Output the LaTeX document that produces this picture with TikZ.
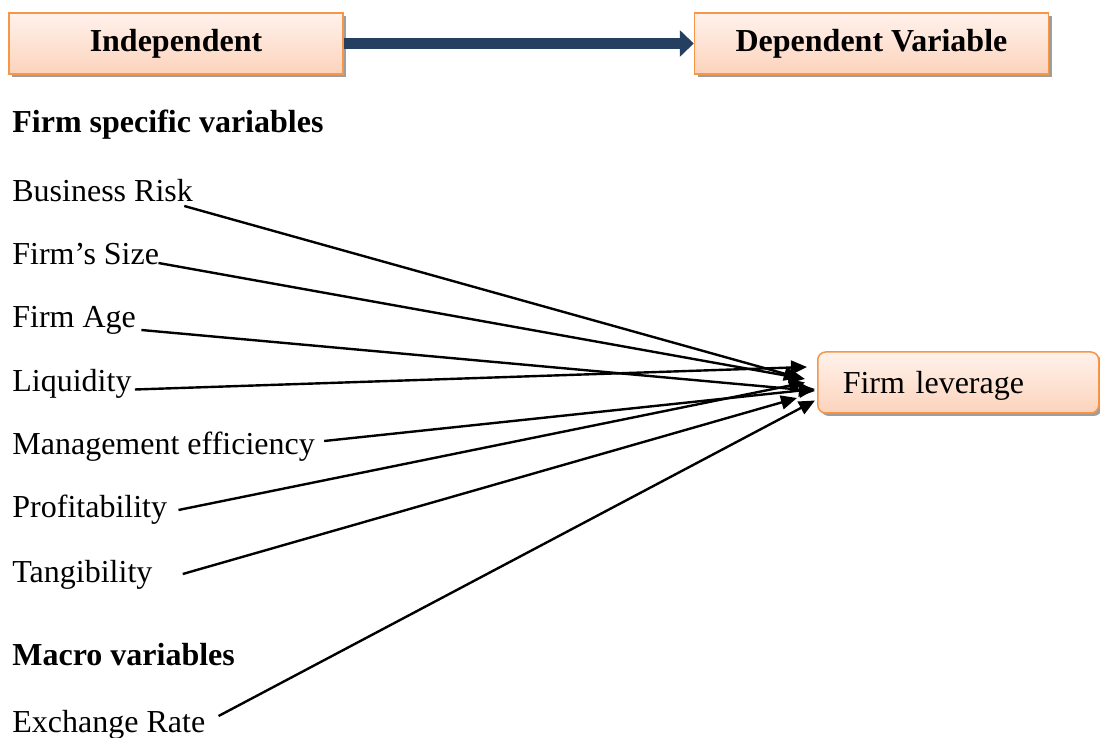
\documentclass[tikz,border=0pt]{standalone}
\usepackage{fontspec}
\setmainfont{Liberation Serif}
\usetikzlibrary{arrows.meta, positioning, shadows, calc}
\definecolor{peach}{HTML}{FCD3BC}
\definecolor{peachlight}{HTML}{FFF2EC}
\definecolor{accentorange}{HTML}{F79646}
\definecolor{navy}{HTML}{243F60}

\begin{document}
\begin{tikzpicture}[
        x=0.5pt, y=-0.5pt,
        every node/.style={font=\fontsize{16}{19}\selectfont},
        headbox/.style={draw=accentorange, line width=0.75pt, top color=peachlight, bottom color=peach, minimum height=30.5pt, font=\fontsize{16}{19}\selectfont\bfseries, drop shadow={shadow xshift=1.5pt, shadow yshift=-1.5pt, fill=black!38, opacity=1}},
        levbox/.style={headbox, rounded corners=4pt, font=\fontsize{16}{19}\selectfont, text width=115.5pt, text depth=0pt, inner xsep=12.5pt, align=left, anchor=west},
        item/.style={inner sep=0pt, anchor=base west},
        heading/.style={item, font=\fontsize{16}{19}\selectfont\bfseries},
        flow/.style={-{Triangle[length=7pt, width=13pt]}, line width=5.5pt, navy},
        link/.style={-{Triangle[length=8pt, width=7pt]}, line width=1.2pt, black}
    ]
        \useasboundingbox (0,0) rectangle (1100,738);

        % top row
        \node[headbox, minimum width=167pt] (indep) at (176,43.5) {Independent};
        \node[headbox, minimum width=177pt, right=175pt of indep] (dep) {Dependent Variable};
        \draw[flow] (indep) -- (dep);

        % variables
        \node[heading] (firmvars) at (12,133) {Firm specific variables};
        \node[item] (risk) at (12,202) {Business Risk};
        \node[item] (size) at (12,265) {Firm’s Size};
        \node[item] (age) at (12,328) {Firm Age};
        \node[item] (liq) at (12,392) {Liquidity};
        \node[item] (mgmt) at (12,455) {Management efficiency};
        \node[item] (profit) at (12,517) {Profitability};
        \node[item] (tang) at (12,582) {Tangibility};
        \node[heading] (macrovars) at (12,665) {Macro variables};
        \node[item] (exch) at (12,732) {Exchange Rate};

        \node[levbox] (lev) at (817,382.5) {Firm leverage};

        % links into firm leverage
        \draw[link] ($(risk.base east)+(-9,4)$) -- ($(lev.west)+(-17,-4.5)$);
        \draw[link] ($(size.base east)+(-1,-2)$) -- ($(lev.west)+(-12,-3.5)$);
        \draw[link] ($(age.base east)+(5,2)$) -- ($(lev.west)+(-2,8.5)$);
        \draw[link] ($(liq.base east)+(3,-2.5)$) -- ($(lev.west)+(-10,-15.5)$);
        \draw[link] ($(mgmt.base east)+(9,-14)$) -- ($(lev.west)+(-2,6.5)$);
        \draw[link] ($(profit.base east)+(11,-7)$) -- ($(lev.west)+(-12,0)$);
        \draw[link] ($(tang.base east)+(30,-8)$) -- ($(lev.west)+(-20,15.5)$);
        \draw[link] ($(exch.base east)+(13,-16)$) -- ($(lev.west)+(-2,18)$);
    \end{tikzpicture}
\end{document}
